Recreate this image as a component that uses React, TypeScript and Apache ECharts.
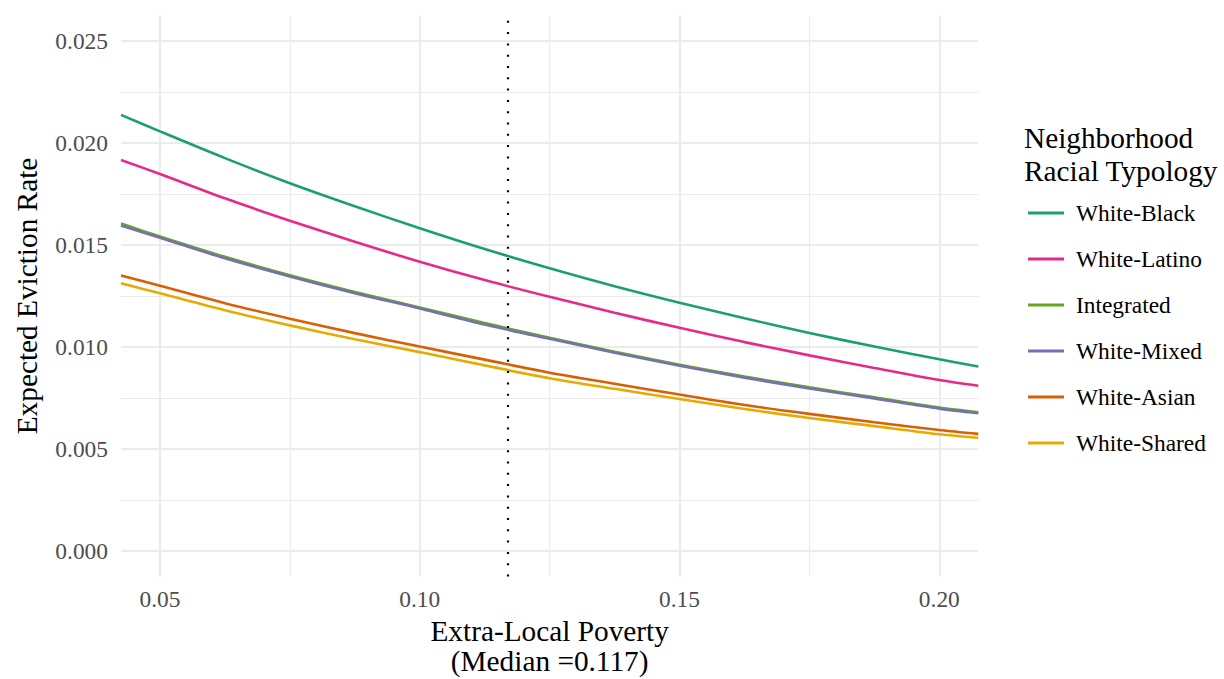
import React, { useEffect, useRef } from "react";
import * as echarts from "echarts";

// Extra-local poverty values (x) at which the expected eviction rates are given
const povertyValues = [
  0.0425, 0.05, 0.0625, 0.075, 0.0875, 0.1, 0.1125, 0.125, 0.1375, 0.15, 0.1625, 0.175, 0.1875, 0.2,
  0.2075,
];

// Expected eviction rate by neighborhood racial typology
const whiteBlack = [
  0.02138, 0.02057, 0.01926, 0.01803, 0.0169, 0.01582, 0.0148, 0.01386, 0.01298, 0.01217, 0.01141,
  0.01069, 0.01002, 0.0094, 0.00904,
];
const whiteLatino = [
  0.01917, 0.01848, 0.01729, 0.01619, 0.01516, 0.01418, 0.01328, 0.01246, 0.01168, 0.01094, 0.01024,
  0.00959, 0.00897, 0.00838, 0.0081,
];
const integrated = [
  0.01606, 0.01542, 0.01442, 0.01352, 0.0127, 0.01194, 0.01117, 0.01045, 0.00977, 0.00913, 0.00855,
  0.00802, 0.00753, 0.00703, 0.0068,
];
const whiteMixed = [
  0.01596, 0.01535, 0.01435, 0.01346, 0.01264, 0.01189, 0.0111, 0.0104, 0.00972, 0.00908, 0.0085,
  0.00797, 0.00748, 0.00698, 0.00676,
];
const whiteAsian = [
  0.0135, 0.013, 0.01215, 0.01139, 0.01068, 0.01002, 0.00938, 0.00874, 0.0082, 0.00767, 0.00716,
  0.00672, 0.00631, 0.00593, 0.00574,
];
const whiteShared = [
  0.01312, 0.01263, 0.0118, 0.01106, 0.01038, 0.00975, 0.0091, 0.00847, 0.00795, 0.00745, 0.00696,
  0.00652, 0.00612, 0.00572, 0.00555,
];

const typologyNames = [
  "White-Black",
  "White-Latino",
  "Integrated",
  "White-Mixed",
  "White-Asian",
  "White-Shared",
];
const typologyValues = [whiteBlack, whiteLatino, integrated, whiteMixed, whiteAsian, whiteShared];
const typologyColors = ["#1B9E77", "#E7298A", "#66A61E", "#7570B3", "#D95F02", "#E6AB02"];

const medianPoverty = 0.117;

// Axis breaks
const xMajorBreaks = [0.05, 0.1, 0.15, 0.2];
const xMinorBreaks = [0.075, 0.125, 0.175];
const yMajorBreaks = [0, 0.005, 0.01, 0.015, 0.02, 0.025];
const yMinorBreaks = [0.0025, 0.0075, 0.0125, 0.0175, 0.0225];

const X_MIN = 0.0425;
const X_MAX = 0.2075;
const Y_MIN = -0.00125;
const Y_MAX = 0.02625;

const SERIF = "'Liberation Serif', 'Times New Roman', serif";
const TITLE_SIZE = 29.3;
const TEXT_SIZE = 23.4;

export default function App() {
  const ref = useRef<HTMLDivElement>(null);

  useEffect(() => {
    if (!ref.current) return;
    const chart = echarts.init(ref.current, null, { renderer: "svg" });

    const gridColor = "#ebebeb";
    const tickText = { color: "#4d4d4d", fontSize: TEXT_SIZE, fontFamily: SERIF };

    const lineSeries = typologyNames.map((name, i) => ({
      name,
      type: "line",
      xAxisIndex: 0,
      yAxisIndex: 0,
      data: povertyValues.map((x, j) => [x, typologyValues[i][j]]),
      showSymbol: false,
      symbol: "none",
      smooth: 0.3,
      lineStyle: { width: 2.6, color: typologyColors[i] },
      itemStyle: { color: typologyColors[i] },
      z: 3,
    }));

    const option = {
      animation: false,
      backgroundColor: "#ffffff",
      textStyle: { fontFamily: SERIF },
      title: {
        text: "Neighborhood\nRacial Typology",
        left: 1024,
        top: 121,
        padding: 0,
        textStyle: {
          fontFamily: SERIF,
          fontSize: TITLE_SIZE,
          fontWeight: "normal",
          color: "#000000",
          lineHeight: 33.5,
        },
      },
      legend: {
        data: typologyNames,
        orient: "vertical",
        left: 1028,
        top: 201,
        padding: 0,
        itemGap: 22,
        itemWidth: 36,
        itemHeight: 3,
        icon: "rect",
        textStyle: {
          fontFamily: SERIF,
          fontSize: TEXT_SIZE,
          color: "#000000",
          lineHeight: 24,
          padding: [0, 0, 0, 7],
        },
      },
      grid: {
        left: 121,
        right: 245.7,
        top: 15.5,
        bottom: 102.5,
        containLabel: false,
        outerBoundsMode: "none",
      },
      xAxis: [
        {
          type: "value",
          min: X_MIN,
          max: X_MAX,
          name: "Extra-Local Poverty\n(Median =" + medianPoverty + ")",
          nameLocation: "middle",
          nameGap: 40,
          nameTextStyle: {
            fontFamily: SERIF,
            fontSize: TITLE_SIZE,
            color: "#000000",
            lineHeight: 29.5,
          },
          axisLine: { show: false },
          axisTick: { show: false, customValues: xMajorBreaks },
          axisLabel: {
            ...tickText,
            margin: 11,
            customValues: xMajorBreaks,
            formatter: (v: number) => v.toFixed(2),
          },
          splitLine: { show: true, lineStyle: { color: gridColor, width: 2 } },
        },
        {
          type: "value",
          min: X_MIN,
          max: X_MAX,
          position: "bottom",
          axisLine: { show: false },
          axisTick: { show: false, customValues: xMinorBreaks },
          axisLabel: { show: false },
          splitLine: { show: true, lineStyle: { color: gridColor, width: 1.2 } },
        },
      ],
      yAxis: [
        {
          type: "value",
          min: Y_MIN,
          max: Y_MAX,
          name: "Expected Eviction Rate",
          nameLocation: "middle",
          nameGap: 80,
          nameTextStyle: {
            fontFamily: SERIF,
            fontSize: TITLE_SIZE,
            color: "#000000",
          },
          axisLine: { show: false },
          axisTick: { show: false, customValues: yMajorBreaks },
          axisLabel: {
            ...tickText,
            margin: 13,
            customValues: yMajorBreaks,
            formatter: (v: number) => v.toFixed(3),
          },
          splitLine: { show: true, lineStyle: { color: gridColor, width: 2 } },
        },
        {
          type: "value",
          min: Y_MIN,
          max: Y_MAX,
          position: "left",
          axisLine: { show: false },
          axisTick: { show: false, customValues: yMinorBreaks },
          axisLabel: { show: false },
          splitLine: { show: true, lineStyle: { color: gridColor, width: 1.2 } },
        },
      ],
      series: [
        ...lineSeries,
        {
          name: "Median",
          type: "line",
          data: [],
          silent: true,
          markLine: {
            silent: true,
            precision: 4,
            symbol: ["none", "none"],
            label: { show: false },
            lineStyle: {
              color: "#000000",
              width: 2.2,
              type: [2, 9.3],
              cap: "butt",
            },
            data: [{ xAxis: medianPoverty }],
          },
          z: 4,
        },
      ],
    };

    chart.setOption(option as any);
    return () => chart.dispose();
  }, []);

  return (
    <div
      ref={ref}
      style={{ position: "fixed", left: 0, top: 0, width: 1224, height: 679 }}
    />
  );
}
